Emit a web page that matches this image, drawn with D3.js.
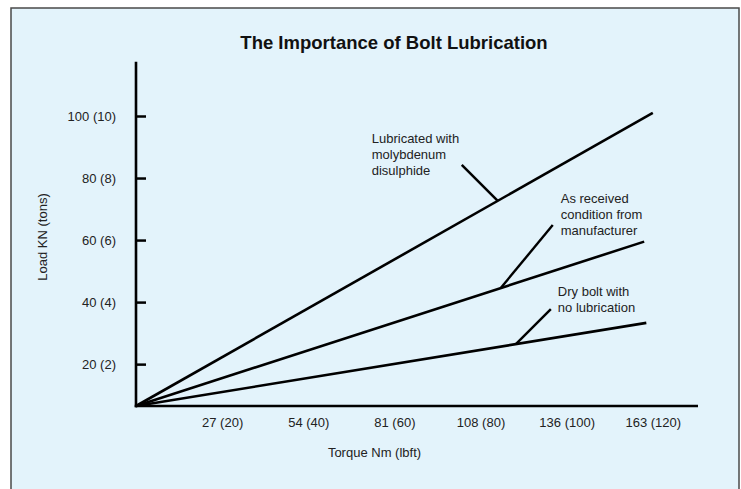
<!DOCTYPE html>
<html>
<head>
<meta charset="utf-8">
<script src="https://cdn.jsdelivr.net/npm/d3@7"></script>
<style>
  html, body { margin: 0; padding: 0; background: #ffffff; }
  svg { display: block; font-family: "Liberation Sans", Arial, sans-serif; }
</style>
</head>
<body>
<svg id="chart" width="741" height="489"></svg>
<script>
// Axis tick values: load in kN with tons, torque in Nm with lbft
const loadKN = [20, 40, 60, 80, 100];
const loadTons = [2, 4, 6, 8, 10];
const torqueNm = [27, 54, 81, 108, 136, 163];
const torqueLbft = [20, 40, 60, 80, 100, 120];

// Series: end point of each straight line (torque lbft, load kN)
const seriesNames = ["Lubricated with molybdenum disulphide", "As received condition from manufacturer", "Dry bolt with no lubrication"];
const endTorque = [120, 118, 118.5];
const endLoad = [101, 59.5, 33.3];
// torque at which each callout meets its line
const calloutTorque = [84, 84.7, 88.2];
const calloutLines = [
  ["Lubricated with", "molybdenum", "disulphide"],
  ["As received", "condition from", "manufacturer"],
  ["Dry bolt with", "no lubrication"]
];

// Axis floor and extents
const loadFloor = 6.5;
const loadTop = 117.5;
const torqueMax = 130.5;

const svg = d3.select("#chart");

// panel
svg.append("rect")
  .attr("x", 11).attr("y", 8)
  .attr("width", 728).attr("height", 500)
  .attr("fill", "#e3f3fb")
  .attr("stroke", "#4a4a4a")
  .attr("stroke-width", 1.5);

const x = d3.scaleLinear().domain([0, torqueMax]).range([136, 698]);
const y = d3.scaleLinear().domain([loadFloor, 100]).range([406, 116]);

// title
svg.append("text")
  .attr("x", 394).attr("y", 49)
  .attr("text-anchor", "middle")
  .attr("font-weight", "bold")
  .attr("font-size", "18.5px")
  .attr("fill", "#111")
  .text("The Importance of Bolt Lubrication");

// y axis
const yAxis = d3.axisLeft(y)
  .tickValues(loadKN)
  .tickSize(0)
  .tickPadding(20)
  .tickFormat((d, i) => `${d} (${loadTons[i]})`);
const gy = svg.append("g").attr("transform", `translate(${x(0)},0)`).call(yAxis);
gy.select(".domain").remove();
gy.selectAll(".tick text").attr("font-size", "13px").attr("fill", "#222").attr("font-family", "Liberation Sans, Arial, sans-serif");
gy.selectAll(".tick").append("line")
  .attr("x1", 0).attr("x2", 10)
  .attr("stroke", "#000").attr("stroke-width", 2.5);
svg.append("line")
  .attr("x1", x(0)).attr("x2", x(0))
  .attr("y1", y(loadTop)).attr("y2", y(loadFloor) + 1.2)
  .attr("stroke", "#000").attr("stroke-width", 2.6);

// x axis
const xAxis = d3.axisBottom(x)
  .tickValues(torqueLbft)
  .tickSize(0)
  .tickPadding(12)
  .tickFormat((d, i) => `${torqueNm[i]} (${d})`);
const gx = svg.append("g").attr("transform", `translate(0,${y(loadFloor)})`).call(xAxis);
gx.select(".domain").remove();
gx.selectAll(".tick text").attr("font-size", "13px").attr("fill", "#222").attr("font-family", "Liberation Sans, Arial, sans-serif");
svg.append("line")
  .attr("x1", x(0) - 1.3).attr("x2", x(torqueMax))
  .attr("y1", y(loadFloor)).attr("y2", y(loadFloor))
  .attr("stroke", "#000").attr("stroke-width", 2.6);

// axis titles
svg.append("text")
  .attr("x", 374.5).attr("y", 457)
  .attr("text-anchor", "middle")
  .attr("font-size", "13px").attr("fill", "#222")
  .text("Torque Nm (lbft)");
svg.append("text")
  .attr("transform", "translate(47,237) rotate(-90)")
  .attr("text-anchor", "middle")
  .attr("font-size", "13px").attr("fill", "#222")
  .text("Load KN (tons)");

// series lines
const line = d3.line().x(d => x(d[0])).y(d => y(d[1]));
seriesNames.forEach((name, i) => {
  svg.append("path")
    .datum([[0, loadFloor], [endTorque[i], endLoad[i]]])
    .attr("d", line)
    .attr("fill", "none")
    .attr("stroke", "#000")
    .attr("stroke-width", 2.6);
});

// callouts: leader offset from the line and text offset from the leader's end
const leaderOffset = [[-36, -36], [52, -63], [35, -35]];
const textOffset = [[-90, -22], [8, -22], [7, -13]];
const lineGap = 16;

seriesNames.forEach((name, i) => {
  const t = calloutTorque[i];
  const load = loadFloor + (endLoad[i] - loadFloor) * t / endTorque[i];
  const ax = x(t), ay = y(load);
  const bx = ax + leaderOffset[i][0], by = ay + leaderOffset[i][1];
  svg.append("line")
    .attr("x1", ax).attr("y1", ay).attr("x2", bx).attr("y2", by)
    .attr("stroke", "#000").attr("stroke-width", 2.4);
  const txt = svg.append("text")
    .attr("font-size", "13px").attr("fill", "#222");
  calloutLines[i].forEach((s, k) => {
    txt.append("tspan")
      .attr("x", bx + textOffset[i][0])
      .attr("y", by + textOffset[i][1] + k * lineGap)
      .text(s);
  });
});
</script>
</body>
</html>
